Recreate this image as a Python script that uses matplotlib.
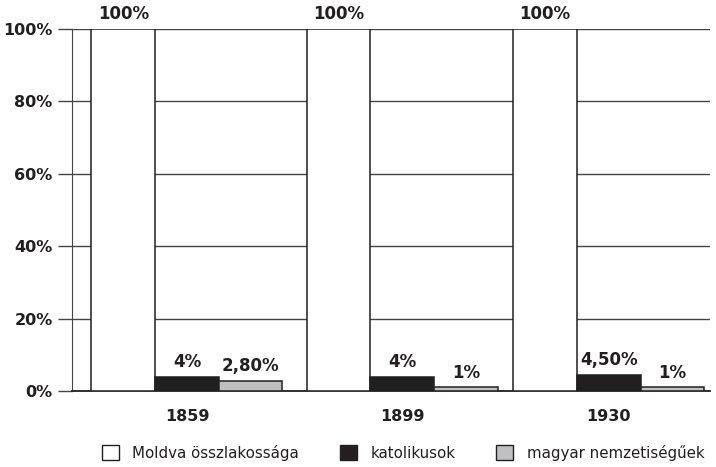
import numpy as np
import matplotlib
matplotlib.use('Agg')
import matplotlib.pyplot as plt
from matplotlib.patches import Patch

years = ['1859', '1899', '1930']
osszlakossag = [100, 100, 100]
katolikusok = [4, 4, 4.5]
magyar = [2.8, 1, 1]
lbl_ossz = ['100%', '100%', '100%']
lbl_kat = ['4%', '4%', '4,50%']
lbl_magy = ['2,80%', '1%', '1%']
series_names = ['Moldva összlakossága', 'katolikusok', 'magyar nemzetiségűek']

plt.rcParams['font.family'] = ['DejaVu Sans']
ink = '#231f20'
grid_c = '#444444'
gray = '#c0c0c2'

fig = plt.figure(figsize=(7.16, 4.67), dpi=100)
ax = fig.add_axes([72/716, 1-391/467, (710-72)/716, (391-29)/467])

x = np.array([0, 1.02, 2.0])
w = 0.302
b1 = ax.bar(x - w, osszlakossag, w, color='white', edgecolor=ink, linewidth=1.1, zorder=3)
b2 = ax.bar(x, katolikusok, w, color=ink, edgecolor=ink, linewidth=1.1, zorder=3)
b3 = ax.bar(x + w, magyar, w, color=gray, edgecolor=ink, linewidth=1.1, zorder=3)

for bars, labels in [(b1, lbl_ossz), (b2, lbl_kat), (b3, lbl_magy)]:
    ax.bar_label(bars, labels=labels, padding=4, fontsize=12, fontweight='bold', color=ink)

ax.set_xlim(-0.545, 2.48)
ax.set_ylim(0, 100)
ax.set_yticks([0, 20, 40, 60, 80, 100])
ax.set_yticklabels(['0%', '20%', '40%', '60%', '80%', '100%'], fontsize=11.5, fontweight='bold', color=ink)
ax.yaxis.grid(True, color=grid_c, linewidth=1.0, zorder=0)
ax.set_axisbelow(True)
ax.tick_params(axis='y', length=10, width=1.0, color=grid_c, pad=4)
ax.set_xticks(x)
ax.set_xticklabels(years, fontsize=11.5, fontweight='bold', color=ink)
ax.tick_params(axis='x', length=0, pad=13)
for s in ['top', 'right']:
    ax.spines[s].set_visible(False)
ax.spines['left'].set_color(grid_c)
ax.spines['bottom'].set_color(ink)
ax.spines['bottom'].set_linewidth(1.3)

handles = [Patch(facecolor='white', edgecolor=ink),
           Patch(facecolor=ink, edgecolor=ink),
           Patch(facecolor=gray, edgecolor=ink)]
fig.legend(handles, series_names, loc='center', bbox_to_anchor=(403/716, 1-453/467), ncol=3,
           frameon=False, fontsize=10.8, handlelength=1.15, handleheight=1.15,
           handletextpad=0.9, columnspacing=2.7, labelcolor=ink)

fig.savefig('out.png', dpi=100)
